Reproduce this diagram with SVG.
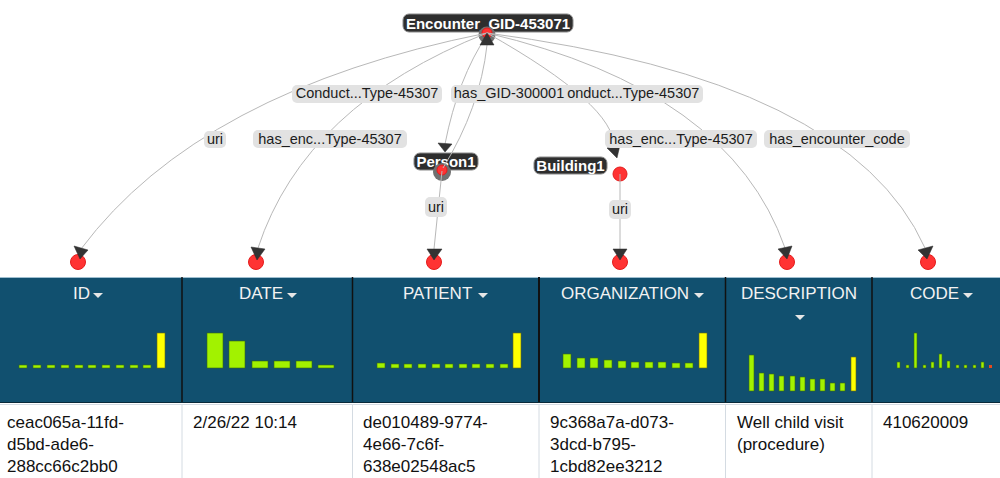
<svg xmlns="http://www.w3.org/2000/svg" width="1000" height="478" viewBox="0 0 1000 478">
<style>
.edge{fill:none;stroke:#b8b8b8;stroke-width:1}
.arrow{fill:#333;stroke:#2a2a2a;stroke-width:0.5}
.lbl{fill:#e2e2e2}
.lt{font-family:"Liberation Sans",Arial,sans-serif;font-size:14.5px;fill:#1c1c1c;text-anchor:middle}
.nl{fill:#2e2e2e;stroke:#8a8a8a;stroke-width:1}
.nt{font-family:"Liberation Sans",Arial,sans-serif;font-size:15px;font-weight:bold;fill:#fff;text-anchor:middle}
.dot{fill:#ff3333;stroke:#e41c1c;stroke-width:1}
.halo{fill:#707070}
.hd{font-family:"Liberation Sans",Arial,sans-serif;font-size:17px;fill:#f2f2f2}
.tri{fill:#e6e6e6}
.g{fill:#a2f200;stroke:#3a6a10;stroke-width:0.6}
.y{fill:#ffff00;stroke:#6a6a10;stroke-width:0.6}
.r{fill:#e84a1c}
.bt{font-family:"Liberation Sans",Arial,sans-serif;font-size:17px;fill:#111}
.sep{stroke:#111;stroke-width:1.5}
.bsep{stroke:#d4dbe2;stroke-width:1}
</style>
<g id="table">
<rect x="0" y="277" width="1000" height="125" fill="#11506f"/>
<line x1="0" y1="277.5" x2="1000" y2="277.5" stroke="#9fbfd0" stroke-width="1"/>
<line x1="0" y1="402.5" x2="1000" y2="402.5" stroke="#0a2a3a" stroke-width="1"/>
<line x1="0" y1="404.5" x2="1000" y2="404.5" stroke="#d4dbe2" stroke-width="1"/>
<line class="sep" x1="182" y1="277" x2="182" y2="402"/>
<line class="sep" x1="352.5" y1="277" x2="352.5" y2="402"/>
<line class="sep" x1="539" y1="277" x2="539" y2="402" style="stroke-width:2"/>
<line class="sep" x1="725.5" y1="277" x2="725.5" y2="402"/>
<line class="sep" x1="872" y1="277" x2="872" y2="402"/>
<line class="bsep" x1="182" y1="405" x2="182" y2="478"/>
<line class="bsep" x1="352.5" y1="405" x2="352.5" y2="478"/>
<line class="bsep" x1="539" y1="405" x2="539" y2="478"/>
<line class="bsep" x1="725.5" y1="405" x2="725.5" y2="478"/>
<line class="bsep" x1="872" y1="405" x2="872" y2="478"/>
<text class="hd" x="73" y="299">ID</text>
<polygon class="tri" points="93,293 103,293 98,298"/>
<text class="hd" x="239" y="299">DATE</text>
<polygon class="tri" points="287,293 297,293 292,298"/>
<text class="hd" x="403" y="299">PATIENT</text>
<polygon class="tri" points="478,293 488,293 483,298"/>
<text class="hd" x="561" y="299">ORGANIZATION</text>
<polygon class="tri" points="694,293 704,293 699,298"/>
<text class="hd" x="799" y="299" text-anchor="middle">DESCRIPTION</text>
<polygon class="tri" points="795,315 805,315 800,320"/>
<text class="hd" x="910" y="299">CODE</text>
<polygon class="tri" points="963,293 973,293 968,298"/>
<g id="hist-id">
<rect class="g" x="19" y="365" width="8" height="3"/><rect class="g" x="33" y="365" width="8" height="3"/><rect class="g" x="47" y="365" width="8" height="3"/><rect class="g" x="61" y="365" width="8" height="3"/><rect class="g" x="75" y="365" width="8" height="3"/><rect class="g" x="88" y="365" width="8" height="3"/><rect class="g" x="102" y="365" width="8" height="3"/><rect class="g" x="116" y="365" width="8" height="3"/><rect class="g" x="130" y="365" width="8" height="3"/><rect class="g" x="143" y="365" width="8" height="3"/><rect class="y" x="157" y="333" width="8" height="35"/>
</g>
<g id="hist-date">
<rect class="g" x="207" y="333" width="16" height="35"/><rect class="g" x="229" y="341" width="16" height="27"/><rect class="g" x="252" y="361" width="16" height="7"/><rect class="g" x="274" y="361" width="16" height="7"/><rect class="g" x="296" y="361" width="16" height="7"/><rect class="g" x="318" y="365" width="16" height="3"/>
</g>
<g id="hist-patient">
<rect class="g" x="377" y="363" width="8" height="5"/><rect class="g" x="391" y="364" width="8" height="4"/><rect class="g" x="404" y="364" width="8" height="4"/><rect class="g" x="418" y="364" width="8" height="4"/><rect class="g" x="432" y="364" width="8" height="4"/><rect class="g" x="445" y="364" width="8" height="4"/><rect class="g" x="459" y="364" width="8" height="4"/><rect class="g" x="472" y="364" width="8" height="4"/><rect class="g" x="486" y="364" width="8" height="4"/><rect class="g" x="500" y="364" width="8" height="4"/><rect class="y" x="513" y="333" width="8" height="35"/>
</g>
<g id="hist-org">
<rect class="g" x="563" y="354" width="8" height="14"/><rect class="g" x="577" y="358" width="8" height="10"/><rect class="g" x="590" y="358" width="8" height="10"/><rect class="g" x="604" y="360" width="8" height="8"/><rect class="g" x="618" y="361" width="8" height="7"/><rect class="g" x="631" y="362" width="8" height="6"/><rect class="g" x="645" y="362" width="8" height="6"/><rect class="g" x="658" y="362" width="8" height="6"/><rect class="g" x="672" y="363" width="8" height="5"/><rect class="g" x="685" y="363" width="8" height="5"/><rect class="y" x="699" y="333" width="8" height="35"/>
</g>
<g id="hist-desc">
<rect class="g" x="749" y="355" width="5" height="36"/><rect class="g" x="759" y="373" width="5" height="18"/><rect class="g" x="769" y="374" width="5" height="17"/><rect class="g" x="779" y="376" width="5" height="15"/><rect class="g" x="790" y="376" width="5" height="15"/><rect class="g" x="800" y="377" width="5" height="14"/><rect class="g" x="810" y="379" width="5" height="12"/><rect class="g" x="820" y="379" width="5" height="12"/><rect class="g" x="830" y="383" width="5" height="8"/><rect class="g" x="840" y="383" width="5" height="8"/><rect class="y" x="851" y="357" width="5" height="34"/>
</g>
<g id="hist-code">
<rect class="g" x="897" y="362" width="3" height="6"/><rect class="g" x="906" y="365" width="3" height="3"/><rect class="g" x="914" y="333" width="3" height="35"/><rect class="g" x="923" y="365" width="3" height="3"/><rect class="g" x="931" y="362" width="3" height="6"/><rect class="g" x="939" y="354" width="3" height="14"/><rect class="g" x="947" y="361" width="3" height="7"/><rect class="g" x="956" y="365" width="3" height="3"/><rect class="g" x="964" y="365" width="3" height="3"/><rect class="g" x="973" y="365" width="3" height="3"/><rect class="g" x="981" y="362" width="3" height="6"/><rect class="r" x="989" y="365" width="3" height="3"/>
</g>
<text class="bt" x="7" y="428">ceac065a-11fd-</text>
<text class="bt" x="7" y="450">d5bd-ade6-</text>
<text class="bt" x="7" y="472">288cc66c2bb0</text>
<text class="bt" x="193" y="428">2/26/22 10:14</text>
<text class="bt" x="363" y="428">de010489-9774-</text>
<text class="bt" x="363" y="450">4e66-7c6f-</text>
<text class="bt" x="363" y="472">638e02548ac5</text>
<text class="bt" x="550" y="428">9c368a7a-d073-</text>
<text class="bt" x="550" y="450">3dcd-b795-</text>
<text class="bt" x="550" y="472">1cbd82ee3212</text>
<text class="bt" x="737" y="428">Well child visit</text>
<text class="bt" x="737" y="450">(procedure)</text>
<text class="bt" x="883" y="428">410620009</text>
</g>
<g id="node-encounter">
<rect class="nl" x="403" y="14" width="170" height="18" rx="6"/>
<text class="nt" x="488" y="28.5">Encounter_GID-453071</text>
<circle class="halo" cx="487" cy="35" r="8.5"/>
<circle class="dot" cx="487" cy="33" r="5"/>
</g>
<g id="node-person1">
<rect class="nl" x="414" y="153" width="64" height="17" rx="6"/>
<text class="nt" x="446" y="167">Person1</text>
<circle class="halo" cx="442" cy="172" r="9"/>
<circle class="dot" cx="442" cy="170" r="5"/>
</g>
<g id="node-building1">
<rect class="nl" x="534" y="157" width="73" height="17" rx="6"/>
<text class="nt" x="570.5" y="171">Building1</text>
<circle class="dot" cx="620" cy="174" r="7"/>
</g>
<g id="node-id"><circle class="dot" cx="78" cy="262" r="7.5"/></g>
<g id="node-date"><circle class="dot" cx="256" cy="262" r="7.5"/></g>
<g id="node-patient"><circle class="dot" cx="434" cy="262" r="7.5"/></g>
<g id="node-organization"><circle class="dot" cx="620" cy="262" r="7.5"/></g>
<g id="node-description"><circle class="dot" cx="787" cy="262" r="7.5"/></g>
<g id="node-code"><circle class="dot" cx="928" cy="262" r="7.5"/></g>
<g id="connectors">
<path class="edge" d="M487,33 Q200,90 81,249"/>
<path class="edge" d="M487,33 Q305,105 258,248"/>
<path class="edge" d="M487,33 Q730,90 785,248"/>
<path class="edge" d="M487,33 Q850,80 925,248"/>
<path class="edge" d="M487,33 Q615,105 614,147"/>
<path class="edge" d="M487,35 Q458,78 445,144"/>
<path class="edge" d="M443,168 Q480,108 487,45"/>
<path class="edge" d="M442,171 L434,249"/>
<path class="edge" d="M620,174 L620,249"/>
<polygon class="arrow" points="74,246 88,250 80,259"/>
<polygon class="arrow" points="251,247 265,249 257,260"/>
<polygon class="arrow" points="427,249 442,249 434,260"/>
<polygon class="arrow" points="613,249 627,249 620,260"/>
<polygon class="arrow" points="778,249 792,246 787,259"/>
<polygon class="arrow" points="918,250 933,246 927,259"/>
<polygon class="arrow" points="607,148 620,145 617,158"/>
<polygon class="arrow" points="438,143 452,144 445,152"/>
<polygon class="arrow" points="480,45 494,45 487,33"/>
<rect class="lbl" x="204" y="131" width="22" height="17" rx="5"/>
<text class="lt" x="215" y="144">uri</text>
<rect class="lbl" x="292" y="85" width="150" height="18" rx="5"/>
<text class="lt" x="367" y="98">Conduct...Type-45307</text>
<rect class="lbl" x="253" y="130" width="154" height="18" rx="5"/>
<text class="lt" x="330" y="144">has_enc...Type-45307</text>
<rect class="lbl" x="553" y="85" width="150" height="18" rx="5"/>
<text class="lt" x="628" y="98">Conduct...Type-45307</text>
<rect class="lbl" x="451" y="85" width="116" height="18" rx="5"/>
<text class="lt" x="509" y="98">has_GID-300001</text>
<rect class="lbl" x="605" y="130" width="152" height="18" rx="5"/>
<text class="lt" x="681" y="144">has_enc...Type-45307</text>
<rect class="lbl" x="764" y="130" width="146" height="18" rx="5"/>
<text class="lt" x="837" y="144">has_encounter_code</text>
<rect class="lbl" x="425" y="197" width="22" height="20" rx="5"/>
<text class="lt" x="436" y="212">uri</text>
<rect class="lbl" x="609" y="200" width="22" height="19" rx="5"/>
<text class="lt" x="620" y="214">uri</text>
</g>
</svg>
